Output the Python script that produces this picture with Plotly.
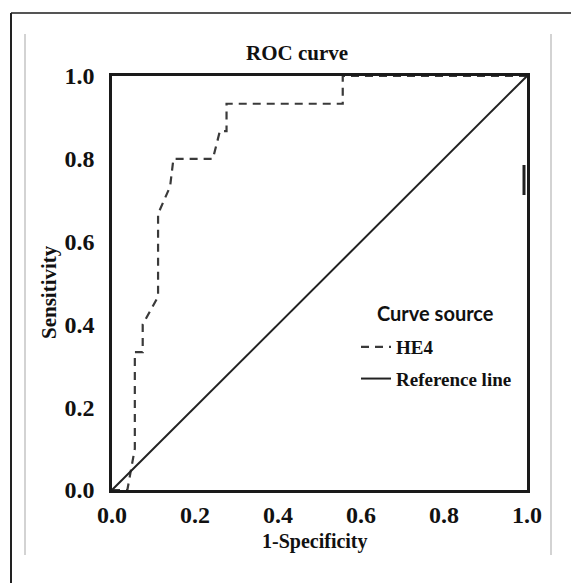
import plotly.graph_objects as go

# HE4 ROC curve (1-Specificity, Sensitivity)
he4_fpr = [0.0, 0.037, 0.055, 0.055, 0.074, 0.074, 0.111, 0.111, 0.140, 0.148,
           0.243, 0.260, 0.276, 0.276, 0.556, 0.556, 1.0]
he4_tpr = [0.0, 0.0, 0.10, 0.333, 0.333, 0.400, 0.467, 0.667, 0.733, 0.800,
           0.800, 0.867, 0.867, 0.933, 0.933, 1.0, 1.0]
ref_x = [0.0, 1.0]
ref_y = [0.0, 1.0]
tick_vals = [0.0, 0.2, 0.4, 0.6, 0.8, 1.0]
tick_text = ["0.0", "0.2", "0.4", "0.6", "0.8", "1.0"]

OFF = 8  # page body margin
W, H = 579 - OFF, 583 - OFF
L, T = 112 - OFF, 76 - OFF
R = W - (527 - OFF)
B = H - (490 - OFF)
PW = W - L - R
PH = H - T - B

def px(xp):
    return (xp - OFF - L) / PW

def py(yp):
    return (H - B - (yp - OFF)) / PH

serif = "Liberation Serif"

fig = go.Figure()
fig.add_trace(go.Scatter(
    x=he4_fpr, y=he4_tpr, mode="lines", name="HE4", legendgroup="a",
    line=dict(color="#3a3a3a", width=2.2, dash="8px,6px"),
))
fig.add_trace(go.Scatter(
    x=ref_x, y=ref_y, mode="lines", name="Reference line", legendgroup="b",
    line=dict(color="#222222", width=2),
))

axis_common = dict(
    range=[0, 1], tickvals=tick_vals, ticktext=tick_text,
    showgrid=False, zeroline=False, showline=True, mirror=True,
    linecolor="#1a1a1a", linewidth=2.5, ticks="", automargin=False,
    tickfont=dict(family=serif, size=24, color="#111111", weight="bold"),
)

fig.update_layout(
    width=W, height=H,
    margin=dict(l=L, r=R, t=T, b=B),
    paper_bgcolor="white", plot_bgcolor="white",
    xaxis=dict(**axis_common, ticklabelstandoff=1),
    yaxis=dict(**axis_common, ticklabelstandoff=10),
    showlegend=True,
    legend=dict(
        x=px(356), y=py(328), xanchor="left", yanchor="top",
        bgcolor="rgba(0,0,0,0)",
        traceorder="grouped", tracegroupgap=4,
        font=dict(family=serif, size=19, color="#111111", weight="bold"),
    ),
)

# title
fig.add_annotation(
    text="<b>ROC curve</b>", xref="paper", yref="paper",
    x=px(297), y=py(53), xanchor="center", yanchor="middle",
    showarrow=False, font=dict(family=serif, size=21, color="#111111"),
)
# axis titles
fig.add_annotation(
    text="<b>1-Specificity</b>", xref="paper", yref="paper",
    x=px(315), y=py(541), xanchor="center", yanchor="middle",
    showarrow=False, font=dict(family=serif, size=20, color="#111111"),
)
fig.add_annotation(
    text="<b>Sensitivity</b>", xref="paper", yref="paper", textangle=-90,
    x=px(49), y=py(292), xanchor="center", yanchor="middle",
    showarrow=False, font=dict(family=serif, size=21, color="#111111"),
)
# legend heading
fig.add_annotation(
    text="Curve source", xref="paper", yref="paper",
    x=px(435), y=py(313), xanchor="center", yanchor="middle",
    showarrow=False,
    font=dict(family="Lato", size=20, color="#111111", weight="bold"),
)

# decorative page frame and guide lines
fig.add_shape(type="line", xref="paper", yref="paper",
              x0=px(11), x1=px(579), y0=py(13), y1=py(13),
              line=dict(color="#555555", width=2))
fig.add_shape(type="line", xref="paper", yref="paper",
              x0=px(11), x1=px(11), y0=py(13), y1=py(583),
              line=dict(color="#222222", width=2))
for gx in (25, 551):
    fig.add_shape(type="line", xref="paper", yref="paper",
                  x0=px(gx), x1=px(gx), y0=py(34), y1=py(555),
                  line=dict(color="#c4c4c4", width=1.5))
# small artifact on right axis
fig.add_shape(type="line", xref="paper", yref="paper",
              x0=px(524), x1=px(524), y0=py(165), y1=py(195),
              line=dict(color="#222222", width=3))

fig.write_html("out.html")
